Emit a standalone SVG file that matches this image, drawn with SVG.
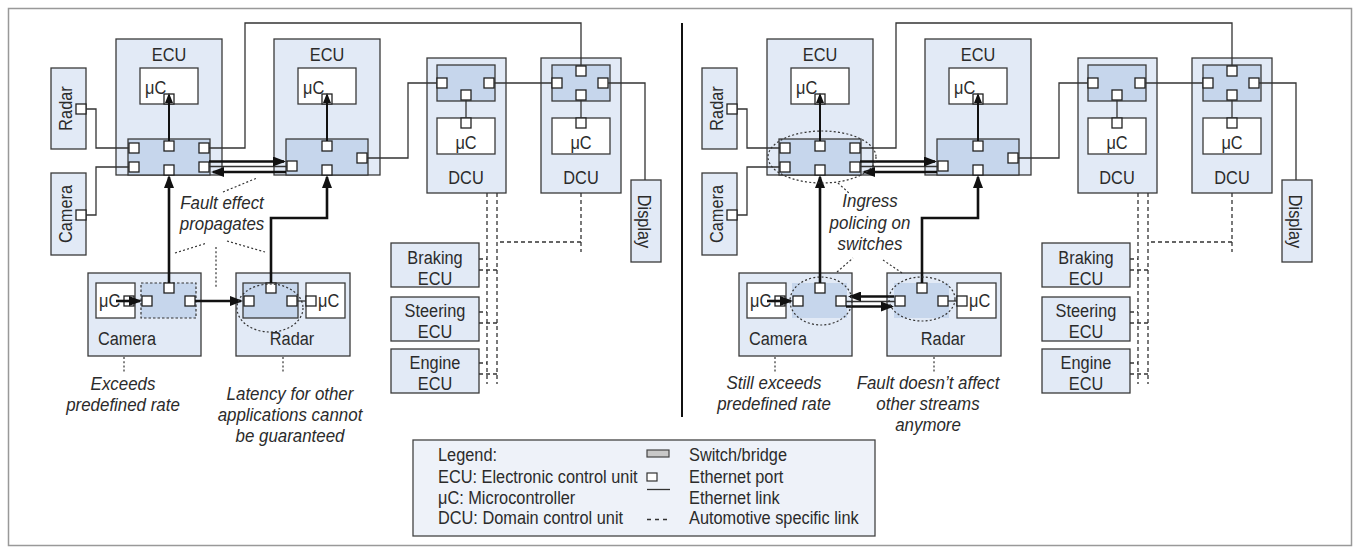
<svg xmlns="http://www.w3.org/2000/svg" width="1357" height="553" viewBox="0 0 1357 553">
<style>
.box{fill:#e2eaf6;stroke:#3a3a3a;stroke-width:1.3}
.sw{fill:#c6d6ec;stroke:#3a3a3a;stroke-width:1.3}
.swd{fill:#c6d6ec;stroke:#333;stroke-width:1.2;stroke-dasharray:2.5 2}
.swn{fill:#c6d6ec;stroke:none}
.mc{fill:#fff;stroke:#3a3a3a;stroke-width:1.3}
.pt{fill:#fff;stroke:#222;stroke-width:1.3}
.ln{fill:none;stroke:#333;stroke-width:1.3}
.au{fill:none;stroke:#333;stroke-width:1.3;stroke-dasharray:4 3}
.dot{fill:none;stroke:#333;stroke-width:1.2;stroke-dasharray:2 2.2}
.ar{fill:none;stroke:#111;stroke-width:2.6;marker-end:url(#ah)}
.ars{fill:none;stroke:#111;stroke-width:2;marker-end:url(#ahs)}
.t{font-family:"Liberation Sans",Arial,sans-serif;font-size:19px;fill:#2b2b2b}
.c{text-anchor:middle}
.i{font-style:italic}
</style>
<defs>
<marker id="ah" markerUnits="userSpaceOnUse" markerWidth="13" markerHeight="10" refX="11" refY="5" orient="auto"><path d="M0,0 L13,5 L0,10 z" fill="#111"/></marker>
<marker id="ahs" markerUnits="userSpaceOnUse" markerWidth="10" markerHeight="8" refX="8" refY="4" orient="auto"><path d="M0,0 L10,4 L0,8 z" fill="#111"/></marker>
</defs>

<rect id="frame" x="8.5" y="8.5" width="1343" height="537" fill="#fff" stroke="#999" stroke-width="1.5"/>

<!-- ===== left scenario: without ingress policing ===== -->
<g id="L-radar-side">
<rect class="box" x="51" y="68" width="35" height="81"/>
<rect class="pt" x="76" y="104" width="10" height="10"/>
<text class="t c" transform="translate(72 108.5) rotate(-90) scale(.86 1)">Radar</text>
</g>
<g id="L-camera-side">
<rect class="box" x="51" y="173" width="35" height="82"/>
<rect class="pt" x="76" y="210" width="10" height="10"/>
<text class="t c" transform="translate(72 214) rotate(-90) scale(.86 1)">Camera</text>
</g>
<g id="L-ecu1">
<rect class="box" x="116" y="39" width="106" height="136"/>
<text class="t c" transform="translate(169 61) scale(.86 1)">ECU</text>
<rect class="mc" x="140" y="68" width="58" height="36"/>
<text class="t" transform="translate(145 94) scale(.86 1)">μC</text>
<rect class="pt" x="164" y="94" width="10" height="10"/>
<rect class="sw" x="128" y="139" width="82" height="36"/>
<rect class="pt" x="129" y="143" width="10" height="10"/>
<rect class="pt" x="129" y="162" width="10" height="10"/>
<rect class="pt" x="164" y="141" width="10" height="10"/>
<rect class="pt" x="164" y="165" width="10" height="10"/>
<rect class="pt" x="199" y="143" width="10" height="10"/>
<rect class="pt" x="199" y="162" width="10" height="10"/>
</g>
<g id="L-ecu2">
<rect class="box" x="274" y="39" width="106" height="136"/>
<text class="t c" transform="translate(327 61) scale(.86 1)">ECU</text>
<rect class="mc" x="298" y="68" width="58" height="36"/>
<text class="t" transform="translate(303 94) scale(.86 1)">μC</text>
<rect class="pt" x="322" y="94" width="10" height="10"/>
<rect class="sw" x="286" y="139" width="82" height="36"/>
<rect class="pt" x="287" y="161" width="10" height="10"/>
<rect class="pt" x="322" y="141" width="10" height="10"/>
<rect class="pt" x="322" y="165" width="10" height="10"/>
<rect class="pt" x="357" y="153" width="10" height="10"/>
</g>
<g id="L-dcu1">
<rect class="box" x="427" y="58" width="79" height="135"/>
<rect class="sw" x="437" y="65" width="58" height="36"/>
<rect class="pt" x="437" y="78" width="10" height="10"/>
<rect class="pt" x="484" y="78" width="10" height="10"/>
<rect class="pt" x="461" y="90" width="10" height="10"/>
<rect class="mc" x="437" y="118" width="58" height="36"/>
<rect class="pt" x="461" y="118" width="10" height="10"/>
<text class="t c" transform="translate(466 149) scale(.86 1)">μC</text>
<text class="t c" transform="translate(466 184) scale(.86 1)">DCU</text>
</g>
<g id="L-dcu2">
<rect class="box" x="541" y="58" width="80" height="135"/>
<rect class="sw" x="552" y="65" width="58" height="36"/>
<rect class="pt" x="552" y="78" width="10" height="10"/>
<rect class="pt" x="598" y="78" width="10" height="10"/>
<rect class="pt" x="576" y="66" width="10" height="10"/>
<rect class="pt" x="576" y="90" width="10" height="10"/>
<rect class="mc" x="552" y="118" width="58" height="36"/>
<rect class="pt" x="576" y="118" width="10" height="10"/>
<text class="t c" transform="translate(581 149) scale(.86 1)">μC</text>
<text class="t c" transform="translate(581 184) scale(.86 1)">DCU</text>
</g>
<g id="L-display">
<rect class="box" x="631" y="180" width="30" height="82"/>
<text class="t c" transform="translate(638 221.5) rotate(90) scale(.86 1)">Display</text>
</g>
<g id="L-braking">
<rect class="box" x="391" y="243" width="88" height="44"/>
<text class="t c" transform="translate(435 264) scale(.86 1)">Braking</text>
<text class="t c" transform="translate(435 285) scale(.86 1)">ECU</text>
</g>
<g id="L-steering">
<rect class="box" x="391" y="297" width="88" height="44"/>
<text class="t c" transform="translate(435 317) scale(.86 1)">Steering</text>
<text class="t c" transform="translate(435 338) scale(.86 1)">ECU</text>
</g>
<g id="L-engine">
<rect class="box" x="391" y="349" width="88" height="44"/>
<text class="t c" transform="translate(435 369) scale(.86 1)">Engine</text>
<text class="t c" transform="translate(435 390) scale(.86 1)">ECU</text>
</g>
<g id="L-camera">
<rect class="box" x="88" y="273" width="113" height="83"/>
<rect class="mc" x="96" y="283" width="39" height="35"/>
<text class="t" transform="translate(99 307) scale(.86 1)">μC</text>
<rect class="pt" x="124" y="296" width="10" height="10"/>
<rect class="swd" x="141" y="283" width="55" height="35"/>
<rect class="pt" x="142" y="296" width="10" height="10"/>
<rect class="pt" x="164" y="283" width="10" height="10"/>
<rect class="pt" x="185" y="296" width="10" height="10"/>
<text class="t c" transform="translate(127 345) scale(.86 1)">Camera</text>
</g>
<g id="L-radar">
<rect class="box" x="236" y="273" width="114" height="83"/>
<rect class="sw" x="243" y="283" width="55" height="35"/>
<rect class="pt" x="244" y="296" width="10" height="10"/>
<rect class="pt" x="266" y="283" width="10" height="10"/>
<rect class="pt" x="287" y="296" width="10" height="10"/>
<rect class="mc" x="306" y="283" width="39" height="35"/>
<rect class="pt" x="306" y="296" width="10" height="10"/>
<text class="t" transform="translate(318 307) scale(.86 1)">μC</text>
<text class="t c" transform="translate(292 345) scale(.86 1)">Radar</text>
</g>

<!-- ===== right scenario: with ingress policing ===== -->
<g id="R-radar-side">
<rect class="box" x="702" y="68" width="35" height="81"/>
<rect class="pt" x="727" y="104" width="10" height="10"/>
<text class="t c" transform="translate(723 108.5) rotate(-90) scale(.86 1)">Radar</text>
</g>
<g id="R-camera-side">
<rect class="box" x="702" y="173" width="35" height="82"/>
<rect class="pt" x="727" y="210" width="10" height="10"/>
<text class="t c" transform="translate(723 214) rotate(-90) scale(.86 1)">Camera</text>
</g>
<g id="R-ecu1">
<rect class="box" x="767" y="39" width="106" height="136"/>
<text class="t c" transform="translate(820 61) scale(.86 1)">ECU</text>
<rect class="mc" x="791" y="68" width="58" height="36"/>
<text class="t" transform="translate(796 94) scale(.86 1)">μC</text>
<rect class="pt" x="815" y="94" width="10" height="10"/>
<rect class="sw" x="779" y="139" width="82" height="36"/>
<rect class="pt" x="780" y="143" width="10" height="10"/>
<rect class="pt" x="780" y="162" width="10" height="10"/>
<rect class="pt" x="815" y="141" width="10" height="10"/>
<rect class="pt" x="815" y="165" width="10" height="10"/>
<rect class="pt" x="850" y="143" width="10" height="10"/>
<rect class="pt" x="850" y="162" width="10" height="10"/>
</g>
<g id="R-ecu2">
<rect class="box" x="925" y="39" width="106" height="136"/>
<text class="t c" transform="translate(978 61) scale(.86 1)">ECU</text>
<rect class="mc" x="949" y="68" width="58" height="36"/>
<text class="t" transform="translate(954 94) scale(.86 1)">μC</text>
<rect class="pt" x="973" y="94" width="10" height="10"/>
<rect class="sw" x="937" y="139" width="82" height="36"/>
<rect class="pt" x="938" y="161" width="10" height="10"/>
<rect class="pt" x="973" y="141" width="10" height="10"/>
<rect class="pt" x="973" y="165" width="10" height="10"/>
<rect class="pt" x="1008" y="153" width="10" height="10"/>
</g>
<g id="R-dcu1">
<rect class="box" x="1078" y="58" width="79" height="135"/>
<rect class="sw" x="1088" y="65" width="58" height="36"/>
<rect class="pt" x="1088" y="78" width="10" height="10"/>
<rect class="pt" x="1135" y="78" width="10" height="10"/>
<rect class="pt" x="1112" y="90" width="10" height="10"/>
<rect class="mc" x="1088" y="118" width="58" height="36"/>
<rect class="pt" x="1112" y="118" width="10" height="10"/>
<text class="t c" transform="translate(1117 149) scale(.86 1)">μC</text>
<text class="t c" transform="translate(1117 184) scale(.86 1)">DCU</text>
</g>
<g id="R-dcu2">
<rect class="box" x="1192" y="58" width="80" height="135"/>
<rect class="sw" x="1203" y="65" width="58" height="36"/>
<rect class="pt" x="1203" y="78" width="10" height="10"/>
<rect class="pt" x="1249" y="78" width="10" height="10"/>
<rect class="pt" x="1227" y="66" width="10" height="10"/>
<rect class="pt" x="1227" y="90" width="10" height="10"/>
<rect class="mc" x="1203" y="118" width="58" height="36"/>
<rect class="pt" x="1227" y="118" width="10" height="10"/>
<text class="t c" transform="translate(1232 149) scale(.86 1)">μC</text>
<text class="t c" transform="translate(1232 184) scale(.86 1)">DCU</text>
</g>
<g id="R-display">
<rect class="box" x="1282" y="180" width="30" height="82"/>
<text class="t c" transform="translate(1289 221.5) rotate(90) scale(.86 1)">Display</text>
</g>
<g id="R-braking">
<rect class="box" x="1042" y="243" width="88" height="44"/>
<text class="t c" transform="translate(1086 264) scale(.86 1)">Braking</text>
<text class="t c" transform="translate(1086 285) scale(.86 1)">ECU</text>
</g>
<g id="R-steering">
<rect class="box" x="1042" y="297" width="88" height="44"/>
<text class="t c" transform="translate(1086 317) scale(.86 1)">Steering</text>
<text class="t c" transform="translate(1086 338) scale(.86 1)">ECU</text>
</g>
<g id="R-engine">
<rect class="box" x="1042" y="349" width="88" height="44"/>
<text class="t c" transform="translate(1086 369) scale(.86 1)">Engine</text>
<text class="t c" transform="translate(1086 390) scale(.86 1)">ECU</text>
</g>
<g id="R-camera">
<rect class="box" x="739" y="273" width="113" height="83"/>
<rect class="mc" x="747" y="283" width="39" height="35"/>
<text class="t" transform="translate(750 307) scale(.86 1)">μC</text>
<rect class="pt" x="775" y="296" width="10" height="10"/>
<rect class="swn" x="792" y="283" width="55" height="35"/>
<rect class="pt" x="793" y="296" width="10" height="10"/>
<rect class="pt" x="815" y="283" width="10" height="10"/>
<rect class="pt" x="836" y="296" width="10" height="10"/>
<text class="t c" transform="translate(778 345) scale(.86 1)">Camera</text>
</g>
<g id="R-radar">
<rect class="box" x="887" y="273" width="114" height="83"/>
<rect class="swn" x="894" y="283" width="55" height="35"/>
<rect class="pt" x="895" y="296" width="10" height="10"/>
<rect class="pt" x="917" y="283" width="10" height="10"/>
<rect class="pt" x="938" y="296" width="10" height="10"/>
<rect class="mc" x="957" y="283" width="39" height="35"/>
<rect class="pt" x="957" y="296" width="10" height="10"/>
<text class="t" transform="translate(969 307) scale(.86 1)">μC</text>
<text class="t c" transform="translate(943 345) scale(.86 1)">Radar</text>
</g>

<!-- ===== links and fault paths ===== -->
<g id="connectors">
<!-- Ethernet links, left -->
<path class="ln" d="M86,109 H96 V148 H129"/>
<path class="ln" d="M86,215 H96 V167 H129"/>
<path class="ln" d="M209,148 H245 V23 H581 V66"/>
<path class="ln" d="M209,166.5 H287"/>
<path class="ln" d="M367,158 H408 V83 H437"/>
<path class="ln" d="M494,83 H552"/>
<path class="ln" d="M608,83 H645 V180"/>
<path class="ln" d="M466,100 V118 M581,100 V118"/>
<path class="ln" d="M297,301 H306"/>
<!-- automotive links, left -->
<path class="au" d="M487,193 V384 M497,193 V384 M581,193 V252 M581,242 H497"/>
<path class="au" d="M479,259 H487 M479,270 H497 M479,312 H487 M479,323 H497 M479,363 H487 M479,374 H497"/>
<!-- fault paths, left -->
<path class="ars" d="M169,141 V95"/>
<path class="ars" d="M327,141 V95"/>
<path class="ar" d="M209,161.5 H284"/>
<path class="ar" d="M286,172 H213"/>
<path class="ar" d="M116,301 H140"/>
<path class="ar" d="M169,283 V177"/>
<path class="ar" d="M195,301 H241"/>
<path class="ar" d="M271,283 V218 H327 V177"/>

<!-- Ethernet links, right -->
<path class="ln" d="M737,109 H747 V148 H780"/>
<path class="ln" d="M737,215 H747 V167 H780"/>
<path class="ln" d="M860,148 H896 V23 H1232 V66"/>
<path class="ln" d="M860,166.5 H938"/>
<path class="ln" d="M1018,158 H1059 V83 H1088"/>
<path class="ln" d="M1145,83 H1203"/>
<path class="ln" d="M1259,83 H1296 V180"/>
<path class="ln" d="M1117,100 V118 M1232,100 V118"/>
<path class="ln" d="M948,301 H957"/>
<path class="ln" d="M846,301.5 H895"/>
<!-- automotive links, right -->
<path class="au" d="M1138,193 V384 M1148,193 V384 M1232,193 V252 M1232,242 H1148"/>
<path class="au" d="M1130,259 H1138 M1130,270 H1148 M1130,312 H1138 M1130,323 H1148 M1130,363 H1138 M1130,374 H1148"/>
<!-- fault paths, right -->
<path class="ars" d="M820,141 V95"/>
<path class="ars" d="M978,141 V95"/>
<path class="ar" d="M860,161.5 H935"/>
<path class="ar" d="M937,172 H864"/>
<path class="ar" d="M767,301 H791"/>
<path class="ar" d="M820,283 V177"/>
<path class="ar" d="M894,296.5 H850"/>
<path class="ar" d="M846,306.5 H892"/>
<path class="ar" d="M922,283 V218 H978 V177"/>
</g>

<!-- ===== annotations ===== -->
<g id="L-notes">
<ellipse class="dot" cx="270" cy="308" rx="33" ry="24"/>
<path class="dot" d="M223,192 L257,178 M175,253 L207,243 M216,247 V287 M227,241 L265,252 M124,357 V373 M283,357 V373"/>
<text class="t c i" transform="translate(222 209) scale(.89 1)">Fault effect</text>
<text class="t c i" transform="translate(222 230) scale(.89 1)">propagates</text>
<text class="t c i" transform="translate(123 390) scale(.89 1)">Exceeds</text>
<text class="t c i" transform="translate(123 411) scale(.89 1)">predefined rate</text>
<text class="t c i" transform="translate(290 400) scale(.89 1)">Latency for other</text>
<text class="t c i" transform="translate(290 421) scale(.89 1)">applications cannot</text>
<text class="t c i" transform="translate(290 442) scale(.89 1)">be guaranteed</text>
</g>
<g id="R-notes">
<ellipse class="dot" cx="822" cy="157" rx="54" ry="26"/>
<ellipse class="dot" cx="821" cy="301" rx="31" ry="24"/>
<ellipse class="dot" cx="922" cy="299" rx="33" ry="22"/>
<path class="dot" d="M838,183 L850,194 M837,272 L853,258 M883,260 L902,273 M775,357 V373 M934,357 V373"/>
<text class="t c i" transform="translate(870 207) scale(.89 1)">Ingress</text>
<text class="t c i" transform="translate(870 228.5) scale(.89 1)">policing on</text>
<text class="t c i" transform="translate(870 250) scale(.89 1)">switches</text>
<text class="t c i" transform="translate(774 389) scale(.89 1)">Still exceeds</text>
<text class="t c i" transform="translate(774 410) scale(.89 1)">predefined rate</text>
<text class="t c i" transform="translate(928 389) scale(.89 1)">Fault doesn’t affect</text>
<text class="t c i" transform="translate(928 410) scale(.89 1)">other streams</text>
<text class="t c i" transform="translate(928 431) scale(.89 1)">anymore</text>
</g>

<line id="divider" x1="682" y1="23" x2="682" y2="417" stroke="#111" stroke-width="2"/>

<g id="legend">
<rect x="413" y="440" width="462" height="96" fill="#eef2f9" stroke="#444" stroke-width="1.3"/>
<text class="t" transform="translate(438 461) scale(.86 1)">Legend:</text>
<text class="t" transform="translate(438 483) scale(.86 1)">ECU: Electronic control unit</text>
<text class="t" transform="translate(438 504) scale(.86 1)">μC: Microcontroller</text>
<text class="t" transform="translate(438 524) scale(.86 1)">DCU: Domain control unit</text>
<rect x="647" y="450" width="22" height="7" fill="#c8c8c8" stroke="#444" stroke-width="1.2"/>
<rect x="647" y="473" width="10" height="8" fill="#fff" stroke="#333" stroke-width="1.2"/>
<line x1="647" y1="489.5" x2="670" y2="489.5" stroke="#333" stroke-width="1.3"/>
<line x1="647" y1="519.5" x2="671" y2="519.5" stroke="#333" stroke-width="1.3" stroke-dasharray="4 4"/>
<text class="t" transform="translate(689 461) scale(.86 1)">Switch/bridge</text>
<text class="t" transform="translate(689 483) scale(.86 1)">Ethernet port</text>
<text class="t" transform="translate(689 504) scale(.86 1)">Ethernet link</text>
<text class="t" transform="translate(689 524) scale(.86 1)">Automotive specific link</text>
</g>
</svg>
